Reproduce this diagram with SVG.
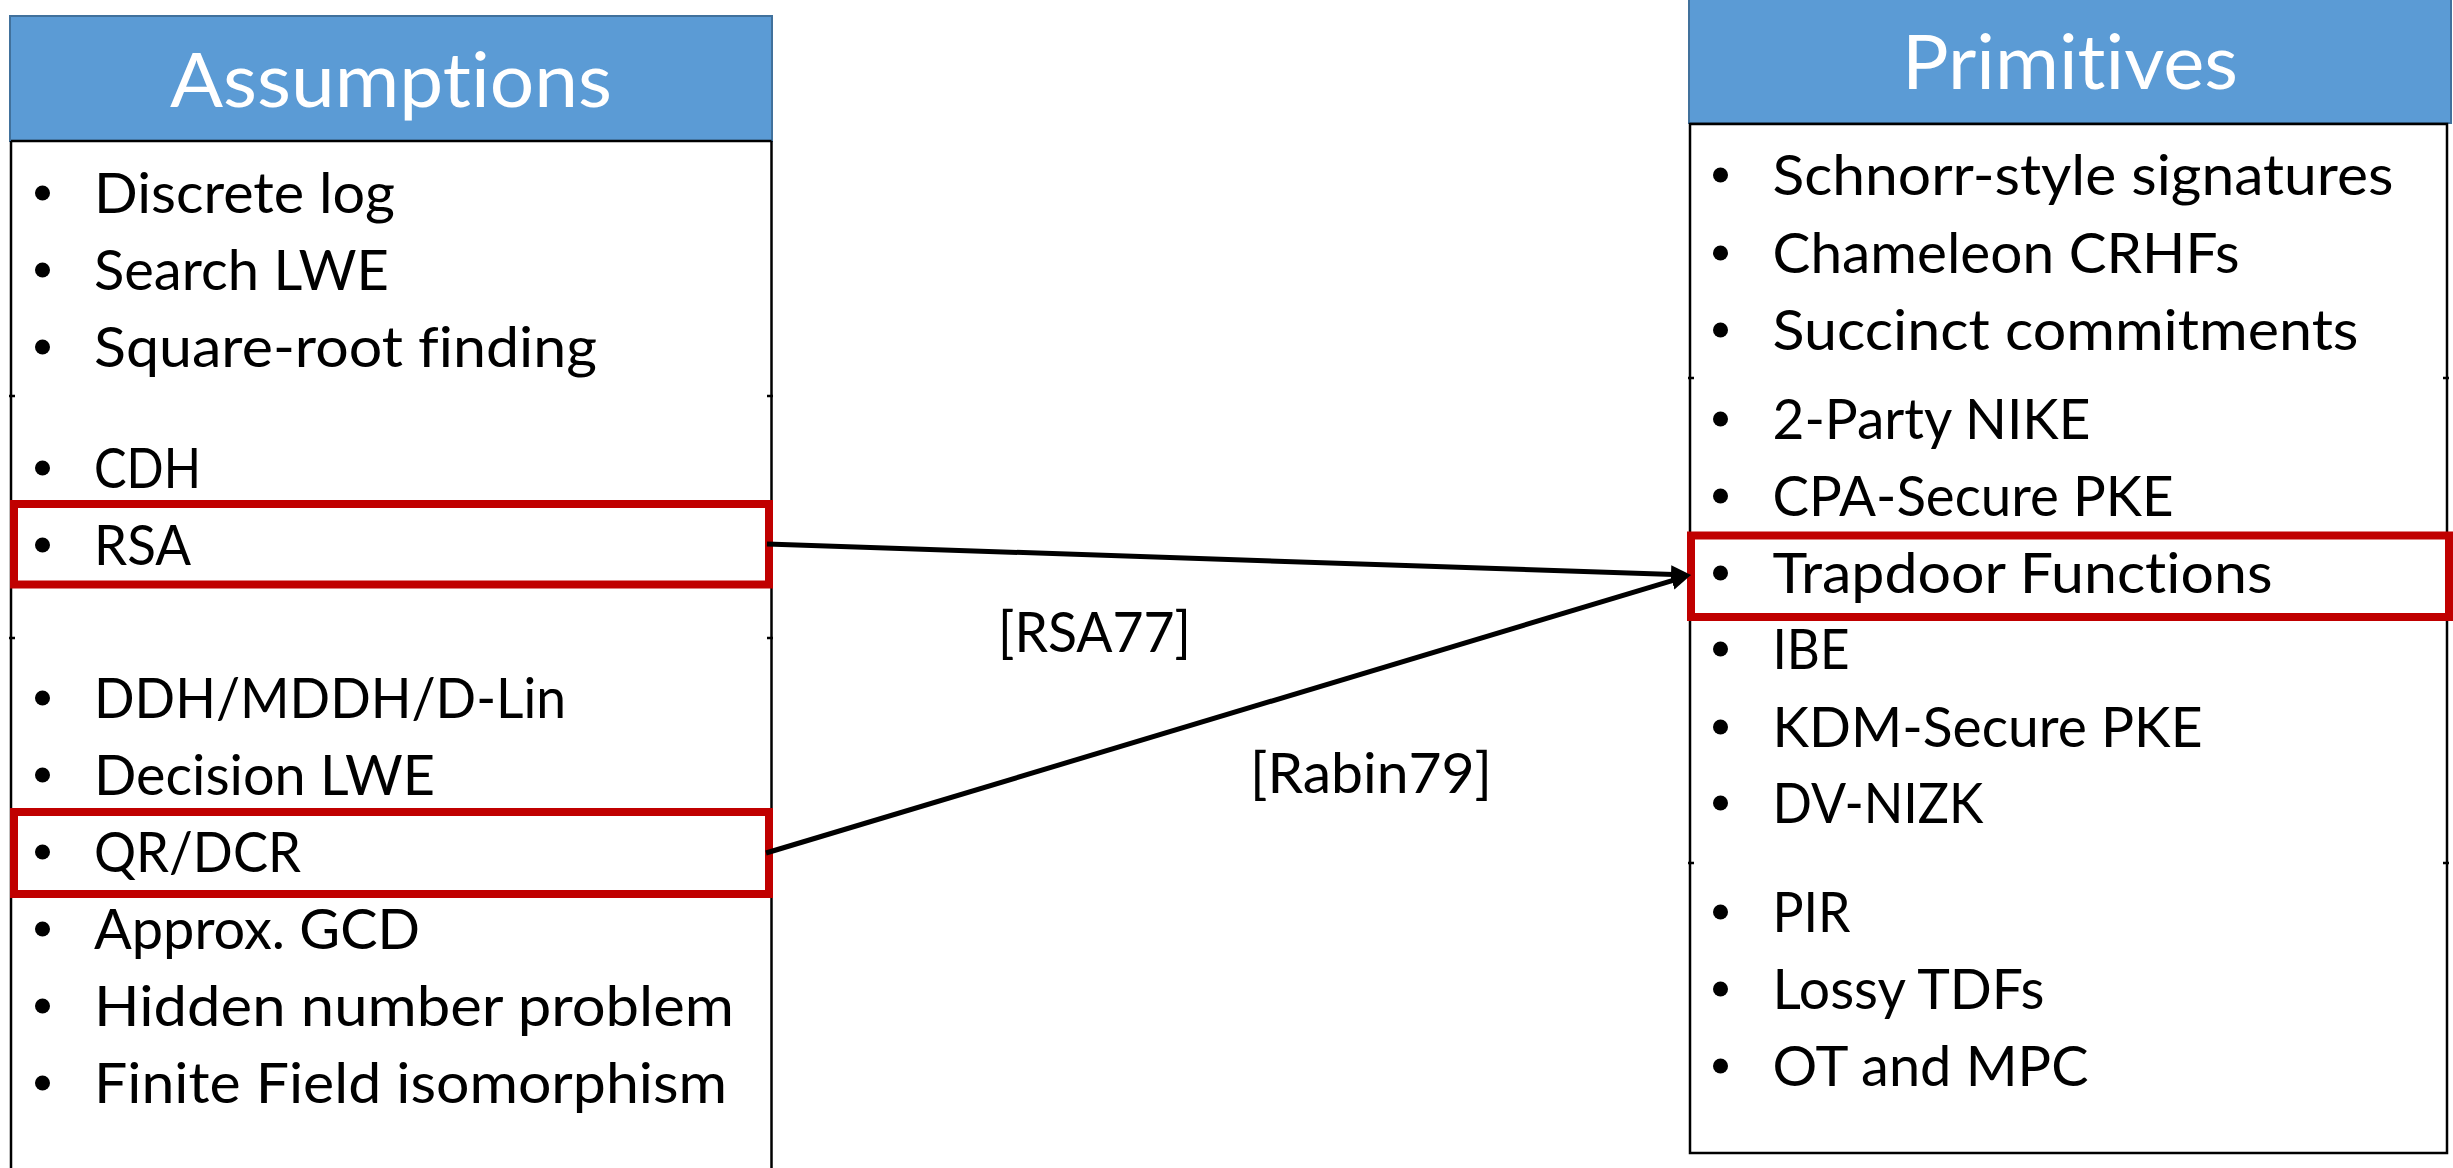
<svg xmlns="http://www.w3.org/2000/svg" width="2453" height="1168" viewBox="0 0 2453 1168">
  <style>
    text { font-variant-ligatures: none; font-feature-settings: "liga" 0, "clig" 0; }
    .hdr { fill: #5B9BD5; stroke: #41719C; stroke-width: 2; }
    .hdr-text { font-family: Lato, "Open Sans", sans-serif; font-size: 76px; fill: #FFFFFF; text-anchor: middle; }
    .item { font-family: Lato, "Open Sans", sans-serif; font-size: 57px; fill: #000000; }
    .body { fill: #FFFFFF; stroke: #000000; stroke-width: 2.5; }
    .side { stroke: #000000; stroke-width: 2.5; fill: none; }
    .tick { stroke: #000000; stroke-width: 2.5; }
    .dot { fill: #000000; }
    .hl { fill: none; stroke: #C00000; stroke-width: 8; }
    .conn { stroke: #000000; stroke-width: 5; fill: none; marker-end: url(#head); }
    .ref { font-family: Lato, "Open Sans", sans-serif; font-size: 57px; fill: #000000; }
  </style>
  <defs>
    <marker id="head" markerUnits="userSpaceOnUse" markerWidth="24" markerHeight="20" refX="10" refY="9" orient="auto">
      <path d="M0,0 L20,9 L0,18 z" fill="#000000"/>
    </marker>
  </defs>

  <rect width="2453" height="1168" fill="#FFFFFF"/>

  <!-- Left column: assumptions -->
  <g id="assumptions">
    <rect class="hdr" x="10" y="16" width="762" height="125"/>
    <text class="hdr-text" x="391" y="107" textLength="442" lengthAdjust="spacingAndGlyphs">Assumptions</text>
    <path class="side" d="M11,141 L771.5,141 M11,141 L11,1170 M771.5,141 L771.5,1170"/>
    <line class="tick" x1="9" y1="396" x2="15" y2="396"/>
    <line class="tick" x1="767" y1="396" x2="773" y2="396"/>
    <line class="tick" x1="9" y1="638" x2="15" y2="638"/>
    <line class="tick" x1="767" y1="638" x2="773" y2="638"/>

    <g id="assumption-items">
      <circle class="dot" cx="42.5" cy="193" r="7.5"/>
      <text class="item" x="94" y="213" textLength="301" lengthAdjust="spacingAndGlyphs">Discrete log</text>
      <circle class="dot" cx="42.5" cy="270" r="7.5"/>
      <text class="item" x="94" y="290" textLength="295" lengthAdjust="spacingAndGlyphs">Search LWE</text>
      <circle class="dot" cx="42.5" cy="347" r="7.5"/>
      <text class="item" x="94" y="367" textLength="503" lengthAdjust="spacingAndGlyphs">Square-root finding</text>

      <circle class="dot" cx="42.5" cy="468" r="7.5"/>
      <text class="item" x="94" y="488" textLength="107" lengthAdjust="spacingAndGlyphs">CDH</text>
      <circle class="dot" cx="42.5" cy="545" r="7.5"/>
      <text class="item" x="94" y="565" textLength="97" lengthAdjust="spacingAndGlyphs">RSA</text>

      <circle class="dot" cx="42.5" cy="698" r="7.5"/>
      <text class="item" x="94" y="718" textLength="472" lengthAdjust="spacingAndGlyphs">DDH/MDDH/D-Lin</text>
      <circle class="dot" cx="42.5" cy="775" r="7.5"/>
      <text class="item" x="94" y="795" textLength="341" lengthAdjust="spacingAndGlyphs">Decision LWE</text>
      <circle class="dot" cx="42.5" cy="852" r="7.5"/>
      <text class="item" x="94" y="872" textLength="207" lengthAdjust="spacingAndGlyphs">QR/DCR</text>
      <circle class="dot" cx="42.5" cy="929" r="7.5"/>
      <text class="item" x="94" y="949" textLength="326" lengthAdjust="spacingAndGlyphs">Approx. GCD</text>
      <circle class="dot" cx="42.5" cy="1006" r="7.5"/>
      <text class="item" x="94" y="1026" textLength="640" lengthAdjust="spacingAndGlyphs">Hidden number problem</text>
      <circle class="dot" cx="42.5" cy="1083" r="7.5"/>
      <text class="item" x="94" y="1103" textLength="633" lengthAdjust="spacingAndGlyphs">Finite Field isomorphism</text>
    </g>

    <rect id="hl-rsa" class="hl" x="14" y="504" width="755" height="80.5"/>
    <rect id="hl-qr" class="hl" x="14" y="812" width="755" height="82"/>
  </g>

  <!-- Right column: primitives -->
  <g id="primitives">
    <rect class="hdr" x="1689" y="-2" width="762" height="125"/>
    <text class="hdr-text" x="2070" y="89" textLength="336" lengthAdjust="spacingAndGlyphs">Primitives</text>
    <rect class="body" x="1690" y="124" width="757" height="1029"/>
    <line class="tick" x1="1688" y1="378" x2="1694" y2="378"/>
    <line class="tick" x1="2443" y1="378" x2="2449" y2="378"/>
    <line class="tick" x1="1688" y1="863" x2="1694" y2="863"/>
    <line class="tick" x1="2443" y1="863" x2="2449" y2="863"/>

    <g id="primitive-items">
      <circle class="dot" cx="1720.5" cy="175" r="7.5"/>
      <text class="item" x="1772.5" y="195" textLength="621" lengthAdjust="spacingAndGlyphs">Schnorr-style signatures</text>
      <circle class="dot" cx="1720.5" cy="253" r="7.5"/>
      <text class="item" x="1772.5" y="273" textLength="467" lengthAdjust="spacingAndGlyphs">Chameleon CRHFs</text>
      <circle class="dot" cx="1720.5" cy="330" r="7.5"/>
      <text class="item" x="1772.5" y="350" textLength="586" lengthAdjust="spacingAndGlyphs">Succinct commitments</text>

      <circle class="dot" cx="1720.5" cy="419" r="7.5"/>
      <text class="item" x="1772.5" y="439" textLength="318" lengthAdjust="spacingAndGlyphs">2-Party NIKE</text>
      <circle class="dot" cx="1720.5" cy="496" r="7.5"/>
      <text class="item" x="1772.5" y="516" textLength="401" lengthAdjust="spacingAndGlyphs">CPA-Secure PKE</text>
      <circle class="dot" cx="1720.5" cy="573" r="7.5"/>
      <text class="item" x="1772.5" y="593" textLength="500" lengthAdjust="spacingAndGlyphs">Trapdoor Functions</text>
      <circle class="dot" cx="1720.5" cy="649" r="7.5"/>
      <text class="item" x="1772.5" y="669" textLength="77" lengthAdjust="spacingAndGlyphs">IBE</text>
      <circle class="dot" cx="1720.5" cy="727" r="7.5"/>
      <text class="item" x="1772.5" y="747" textLength="430" lengthAdjust="spacingAndGlyphs">KDM-Secure PKE</text>
      <circle class="dot" cx="1720.5" cy="803" r="7.5"/>
      <text class="item" x="1772.5" y="823" textLength="211" lengthAdjust="spacingAndGlyphs">DV-NIZK</text>

      <circle class="dot" cx="1720.5" cy="912" r="7.5"/>
      <text class="item" x="1772.5" y="932" textLength="78" lengthAdjust="spacingAndGlyphs">PIR</text>
      <circle class="dot" cx="1720.5" cy="989" r="7.5"/>
      <text class="item" x="1772.5" y="1009" textLength="272" lengthAdjust="spacingAndGlyphs">Lossy TDFs</text>
      <circle class="dot" cx="1720.5" cy="1066" r="7.5"/>
      <text class="item" x="1772.5" y="1086" textLength="316" lengthAdjust="spacingAndGlyphs">OT and MPC</text>
    </g>

    <rect id="hl-tdf" class="hl" x="1691" y="535.5" width="758" height="81.5"/>
  </g>

  <!-- Reductions from assumptions to trapdoor functions -->
  <g id="connectors">
    <line class="conn" x1="767" y1="544" x2="1681" y2="574.7"/>
    <line class="conn" x1="766" y1="853" x2="1681.4" y2="577.9"/>
    <text class="ref" x="998" y="652" textLength="193" lengthAdjust="spacingAndGlyphs">[RSA77]</text>
    <text class="ref" x="1250" y="793" textLength="242" lengthAdjust="spacingAndGlyphs">[Rabin79]</text>
  </g>
</svg>
